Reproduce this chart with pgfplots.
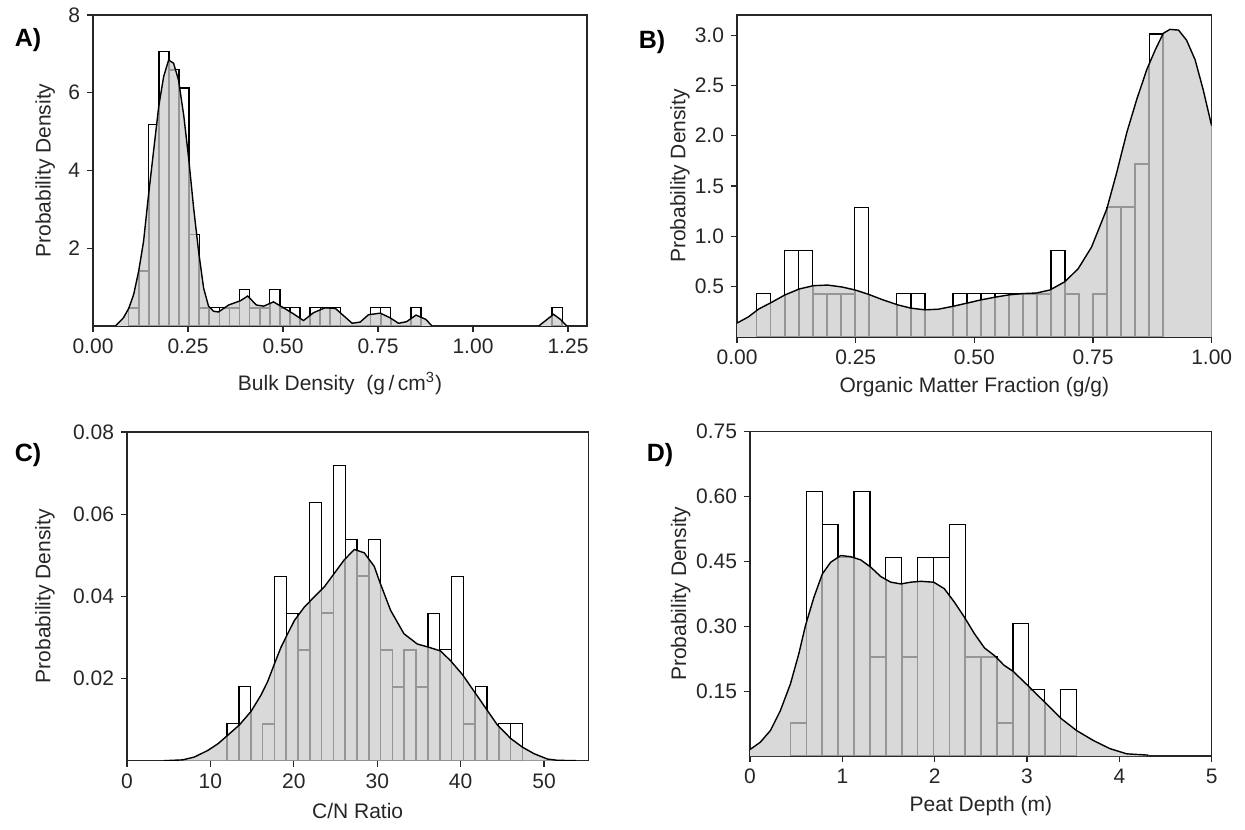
\documentclass[border=0pt]{standalone}
\usepackage{fontspec}
\setmainfont{Liberation Sans}
\usepackage{pgfplots}
\pgfplotsset{compat=1.18}
\definecolor{densfill}{RGB}{217,217,217}
\definecolor{histgrey}{RGB}{150,150,150}
\begin{document}
\begin{tikzpicture}[x=1pt,y=1pt]
\path[use as bounding box] (0,0) rectangle (622.5,414.5);
\pgfplotsset{
  panel/.style={
    scale only axis,
    axis line style={black!85, line width=0.6pt},
    tick style={black!85, line width=0.6pt},
    tick align=outside,
    major tick length=3pt,
    xtick pos=bottom, ytick pos=left,
    scaled ticks=false,
    ticklabel style={font=\fontsize{10.5}{12}\selectfont, text=black!85},
    label style={font=\fontsize{10.5}{12}\selectfont, text=black!85},
    xlabel style={at={(axis description cs:0.5,0)}, anchor=center, yshift=-25pt},
    clip=true,
  },
  hist/.style={ybar interval, fill=white, draw=black, line width=0.65pt},
  histin/.style={ybar interval, fill=none, draw=histgrey, line width=0.8pt},
  dens/.style={fill=densfill, draw=none},
  densline/.style={black, line width=0.7pt},
}
% ---------------- A ----------------
\begin{axis}[panel, at={(46.5pt,251.5pt)}, anchor=south west, width=247pt, height=155.5pt,
  xmin=0, xmax=1.30, ymin=0, ymax=8,
  xtick={0,0.25,0.5,0.75,1,1.25}, xticklabels={0.00,0.25,0.50,0.75,1.00,1.25},
  ytick={2,4,6,8}, yticklabels={2,4,6,8},
  xlabel={Bulk Density\ \ (g\,/\,cm\textsuperscript{3})},
  xlabel style={yshift=-4pt},
  ylabel={Probability Density},
  ylabel style={at={(axis description cs:-0.097,0.5)}, anchor=center}]
\addplot[hist] coordinates {
(0.0938,0.47)(0.1203,1.41)(0.1469,5.18)(0.1734,7.06)(0.1999,6.59)(0.2265,6.12)
(0.2530,2.35)(0.2795,0.47)(0.3060,0.47)(0.3326,0.47)(0.3591,0.47)(0.3856,0.94)
(0.4122,0.47)(0.4387,0.47)(0.4652,0.94)(0.4918,0.47)(0.5183,0.47)(0.5448,0)
(0.5713,0.47)(0.5979,0.47)(0.6244,0.47)(0.6509,0)(0.6775,0)(0.7040,0)
(0.7305,0.47)(0.7571,0.47)(0.7836,0)(0.8101,0)(0.8366,0.47)(0.8632,0)};
\addplot[hist] coordinates {(1.2081,0.47)(1.2346,0)};
\addplot[dens] coordinates {
(0.059,0)(0.080,0.21)(0.094,0.45)(0.107,0.81)(0.120,1.40)(0.133,2.17)(0.146,3.36)
(0.160,4.55)(0.173,5.65)(0.186,6.42)(0.199,6.84)(0.212,6.76)(0.225,6.33)(0.239,5.40)
(0.252,4.29)(0.265,3.02)(0.278,1.91)(0.291,0.98)(0.304,0.51)(0.317,0.38)(0.330,0.36)
(0.357,0.54)(0.388,0.65)(0.407,0.77)(0.430,0.54)(0.449,0.51)(0.475,0.62)(0.501,0.47)
(0.528,0.31)(0.554,0.14)(0.580,0.34)(0.611,0.47)(0.638,0.45)(0.660,0.26)(0.682,0.07)
(0.703,0.10)(0.725,0.29)(0.756,0.33)(0.782,0.21)(0.804,0.07)(0.825,0.11)(0.850,0.28)
(0.876,0.17)(0.892,0)} \closedcycle;
\addplot[dens] coordinates {(1.173,0)(1.195,0.17)(1.212,0.30)(1.230,0.17)(1.247,0)} \closedcycle;
\begin{scope}
\clip plot coordinates {
(0.059,0)(0.080,0.21)(0.094,0.45)(0.107,0.81)(0.120,1.40)(0.133,2.17)(0.146,3.36)
(0.160,4.55)(0.173,5.65)(0.186,6.42)(0.199,6.84)(0.212,6.76)(0.225,6.33)(0.239,5.40)
(0.252,4.29)(0.265,3.02)(0.278,1.91)(0.291,0.98)(0.304,0.51)(0.317,0.38)(0.330,0.36)
(0.357,0.54)(0.388,0.65)(0.407,0.77)(0.430,0.54)(0.449,0.51)(0.475,0.62)(0.501,0.47)
(0.528,0.31)(0.554,0.14)(0.580,0.34)(0.611,0.47)(0.638,0.45)(0.660,0.26)(0.682,0.07)
(0.703,0.10)(0.725,0.29)(0.756,0.33)(0.782,0.21)(0.804,0.07)(0.825,0.11)(0.850,0.28)
(0.876,0.17)(0.892,0)(1.173,0)(1.195,0.17)(1.212,0.30)(1.230,0.17)(1.247,0)} -- cycle;
\addplot[histin] coordinates {
(0.0938,0.47)(0.1203,1.41)(0.1469,5.18)(0.1734,7.06)(0.1999,6.59)(0.2265,6.12)
(0.2530,2.35)(0.2795,0.47)(0.3060,0.47)(0.3326,0.47)(0.3591,0.47)(0.3856,0.94)
(0.4122,0.47)(0.4387,0.47)(0.4652,0.94)(0.4918,0.47)(0.5183,0.47)(0.5448,0)
(0.5713,0.47)(0.5979,0.47)(0.6244,0.47)(0.6509,0)(0.6775,0)(0.7040,0)
(0.7305,0.47)(0.7571,0.47)(0.7836,0)(0.8101,0)(0.8366,0.47)(0.8632,0)};
\addplot[histin] coordinates {(1.2081,0.47)(1.2346,0)};
\end{scope}
\addplot[densline] coordinates {
(0.059,0)(0.080,0.21)(0.094,0.45)(0.107,0.81)(0.120,1.40)(0.133,2.17)(0.146,3.36)
(0.160,4.55)(0.173,5.65)(0.186,6.42)(0.199,6.84)(0.212,6.76)(0.225,6.33)(0.239,5.40)
(0.252,4.29)(0.265,3.02)(0.278,1.91)(0.291,0.98)(0.304,0.51)(0.317,0.38)(0.330,0.36)
(0.357,0.54)(0.388,0.65)(0.407,0.77)(0.430,0.54)(0.449,0.51)(0.475,0.62)(0.501,0.47)
(0.528,0.31)(0.554,0.14)(0.580,0.34)(0.611,0.47)(0.638,0.45)(0.660,0.26)(0.682,0.07)
(0.703,0.10)(0.725,0.29)(0.756,0.33)(0.782,0.21)(0.804,0.07)(0.825,0.11)(0.850,0.28)
(0.876,0.17)(0.892,0)};
\addplot[densline] coordinates {(1.173,0)(1.195,0.17)(1.212,0.30)(1.230,0.17)(1.247,0)};
\end{axis}
% ---------------- B ----------------
\begin{axis}[panel, at={(368.5pt,246pt)}, anchor=south west, width=237.35pt, height=161pt,
  xmin=0, xmax=1.0, ymin=0, ymax=3.2,
  xtick={0,0.25,0.5,0.75,1}, xticklabels={0.00,0.25,0.50,0.75,1.00},
  ytick={0.5,1,1.5,2,2.5,3}, yticklabels={0.5,1.0,1.5,2.0,2.5,3.0},
  xlabel={Organic Matter Fraction (g/g)},
  ylabel={Probability Density},
  ylabel style={at={(axis description cs:-0.12,0.5)}, anchor=center}]
\addplot[hist] coordinates {
(0.0414,0.43)(0.0709,0)(0.1005,0.86)(0.1300,0.86)(0.1595,0.43)(0.1891,0.43)
(0.2186,0.43)(0.2481,1.29)(0.2776,0)(0.3072,0)(0.3367,0.43)(0.3662,0.43)
(0.3958,0)(0.4253,0)(0.4548,0.43)(0.4844,0.43)(0.5139,0.43)(0.5434,0.43)
(0.5729,0.43)(0.6025,0.43)(0.6320,0.43)(0.6615,0.86)(0.6911,0.43)(0.7206,0)
(0.7501,0.43)(0.7797,1.29)(0.8092,1.29)(0.8387,1.72)(0.8682,3.01)(0.8978,0)};
\addplot[dens] coordinates {
(0.0,0.138)(0.024,0.20)(0.045,0.276)(0.073,0.345)(0.101,0.418)(0.131,0.477)(0.161,0.51)
(0.191,0.516)(0.221,0.497)(0.249,0.467)(0.277,0.424)(0.308,0.368)(0.339,0.319)(0.367,0.286)
(0.396,0.27)(0.424,0.276)(0.456,0.306)(0.484,0.336)(0.513,0.368)(0.543,0.395)(0.572,0.418)
(0.600,0.431)(0.631,0.437)(0.659,0.467)(0.691,0.55)(0.719,0.681)(0.747,0.895)(0.779,1.273)
(0.80,1.636)(0.821,2.03)(0.842,2.36)(0.863,2.655)(0.881,2.853)(0.898,3.018)(0.912,3.057)
(0.930,3.05)(0.947,2.95)(0.965,2.755)(0.982,2.458)(1.0,2.096)} \closedcycle;
\begin{scope}
\clip plot coordinates {
(0.0,0.138)(0.024,0.20)(0.045,0.276)(0.073,0.345)(0.101,0.418)(0.131,0.477)(0.161,0.51)
(0.191,0.516)(0.221,0.497)(0.249,0.467)(0.277,0.424)(0.308,0.368)(0.339,0.319)(0.367,0.286)
(0.396,0.27)(0.424,0.276)(0.456,0.306)(0.484,0.336)(0.513,0.368)(0.543,0.395)(0.572,0.418)
(0.600,0.431)(0.631,0.437)(0.659,0.467)(0.691,0.55)(0.719,0.681)(0.747,0.895)(0.779,1.273)
(0.80,1.636)(0.821,2.03)(0.842,2.36)(0.863,2.655)(0.881,2.853)(0.898,3.018)(0.912,3.057)
(0.930,3.05)(0.947,2.95)(0.965,2.755)(0.982,2.458)(1.0,2.096)} -- (1.0,0) -- (0,0) -- cycle;
\addplot[histin] coordinates {
(0.0414,0.43)(0.0709,0)(0.1005,0.86)(0.1300,0.86)(0.1595,0.43)(0.1891,0.43)
(0.2186,0.43)(0.2481,1.29)(0.2776,0)(0.3072,0)(0.3367,0.43)(0.3662,0.43)
(0.3958,0)(0.4253,0)(0.4548,0.43)(0.4844,0.43)(0.5139,0.43)(0.5434,0.43)
(0.5729,0.43)(0.6025,0.43)(0.6320,0.43)(0.6615,0.86)(0.6911,0.43)(0.7206,0)
(0.7501,0.43)(0.7797,1.29)(0.8092,1.29)(0.8387,1.72)(0.8682,3.01)(0.8978,0)};
\end{scope}
\addplot[densline] coordinates {
(0.0,0.138)(0.024,0.20)(0.045,0.276)(0.073,0.345)(0.101,0.418)(0.131,0.477)(0.161,0.51)
(0.191,0.516)(0.221,0.497)(0.249,0.467)(0.277,0.424)(0.308,0.368)(0.339,0.319)(0.367,0.286)
(0.396,0.27)(0.424,0.276)(0.456,0.306)(0.484,0.336)(0.513,0.368)(0.543,0.395)(0.572,0.418)
(0.600,0.431)(0.631,0.437)(0.659,0.467)(0.691,0.55)(0.719,0.681)(0.747,0.895)(0.779,1.273)
(0.80,1.636)(0.821,2.03)(0.842,2.36)(0.863,2.655)(0.881,2.853)(0.898,3.018)(0.912,3.057)
(0.930,3.05)(0.947,2.95)(0.965,2.755)(0.982,2.458)(1.0,2.096)};
\end{axis}
% ---------------- C ----------------
\begin{axis}[panel, at={(63.5pt,34.15pt)}, anchor=south west, width=230.65pt, height=164.35pt,
  xmin=0, xmax=55.3, ymin=0, ymax=0.08,
  xtick={0,10,20,30,40,50}, xticklabels={0,10,20,30,40,50},
  ytick={0.02,0.04,0.06,0.08}, yticklabels={0.02,0.04,0.06,0.08},
  xlabel={C/N Ratio},
  ylabel={Probability Density},
  ylabel style={at={(axis description cs:-0.178,0.5)}, anchor=center}]
\addplot[hist] coordinates {
(12.000,0.009)(13.416,0.018)(14.832,0)(16.248,0.009)(17.664,0.0449)(19.080,0.0359)
(20.496,0.027)(21.912,0.0629)(23.328,0.0359)(24.744,0.0718)(26.160,0.0539)(27.576,0.0449)
(28.992,0.0539)(30.408,0.027)(31.824,0.018)(33.240,0.027)(34.656,0.018)(36.072,0.0359)
(37.488,0.027)(38.904,0.0449)(40.320,0.009)(41.736,0.018)(43.152,0)(44.568,0.009)
(45.984,0.009)(47.400,0)};
\addplot[dens] coordinates {
(4.42,0)(6.69,0.0002)(8.08,0.0009)(9.69,0.0025)(10.89,0.0041)(12.08,0.0062)(13.47,0.0087)
(14.87,0.012)(16.07,0.016)(16.87,0.0193)(17.66,0.0235)(18.46,0.0276)(19.26,0.0309)
(20.06,0.0341)(21.26,0.0374)(22.46,0.0399)(23.65,0.0423)(24.85,0.0456)(26.05,0.0489)
(27.25,0.0514)(28.44,0.0506)(29.64,0.0473)(30.3,0.0435)(31.6,0.0366)(33.2,0.0309)
(34.8,0.0284)(36.2,0.0276)(37.6,0.0267)(38.8,0.0243)(40.2,0.021)(41.6,0.0169)(43.0,0.0128)
(44.4,0.0087)(46.0,0.0054)(47.4,0.0033)(48.8,0.0017)(50.4,0.0004)(51.6,0.0001)(53.8,0)} \closedcycle;
\begin{scope}
\clip plot coordinates {
(4.42,0)(6.69,0.0002)(8.08,0.0009)(9.69,0.0025)(10.89,0.0041)(12.08,0.0062)(13.47,0.0087)
(14.87,0.012)(16.07,0.016)(16.87,0.0193)(17.66,0.0235)(18.46,0.0276)(19.26,0.0309)
(20.06,0.0341)(21.26,0.0374)(22.46,0.0399)(23.65,0.0423)(24.85,0.0456)(26.05,0.0489)
(27.25,0.0514)(28.44,0.0506)(29.64,0.0473)(30.3,0.0435)(31.6,0.0366)(33.2,0.0309)
(34.8,0.0284)(36.2,0.0276)(37.6,0.0267)(38.8,0.0243)(40.2,0.021)(41.6,0.0169)(43.0,0.0128)
(44.4,0.0087)(46.0,0.0054)(47.4,0.0033)(48.8,0.0017)(50.4,0.0004)(51.6,0.0001)(53.8,0)} -- cycle;
\addplot[histin] coordinates {
(12.000,0.009)(13.416,0.018)(14.832,0)(16.248,0.009)(17.664,0.0449)(19.080,0.0359)
(20.496,0.027)(21.912,0.0629)(23.328,0.0359)(24.744,0.0718)(26.160,0.0539)(27.576,0.0449)
(28.992,0.0539)(30.408,0.027)(31.824,0.018)(33.240,0.027)(34.656,0.018)(36.072,0.0359)
(37.488,0.027)(38.904,0.0449)(40.320,0.009)(41.736,0.018)(43.152,0)(44.568,0.009)
(45.984,0.009)(47.400,0)};
\end{scope}
\addplot[densline] coordinates {
(4.42,0)(6.69,0.0002)(8.08,0.0009)(9.69,0.0025)(10.89,0.0041)(12.08,0.0062)(13.47,0.0087)
(14.87,0.012)(16.07,0.016)(16.87,0.0193)(17.66,0.0235)(18.46,0.0276)(19.26,0.0309)
(20.06,0.0341)(21.26,0.0374)(22.46,0.0399)(23.65,0.0423)(24.85,0.0456)(26.05,0.0489)
(27.25,0.0514)(28.44,0.0506)(29.64,0.0473)(30.3,0.0435)(31.6,0.0366)(33.2,0.0309)
(34.8,0.0284)(36.2,0.0276)(37.6,0.0267)(38.8,0.0243)(40.2,0.021)(41.6,0.0169)(43.0,0.0128)
(44.4,0.0087)(46.0,0.0054)(47.4,0.0033)(48.8,0.0017)(50.4,0.0004)(51.6,0.0001)(53.8,0)};
\end{axis}
% ---------------- D ----------------
\begin{axis}[panel, at={(375pt,36.5pt)}, anchor=south west, width=230.85pt, height=162.15pt,
  xmin=0, xmax=5, ymin=0, ymax=0.75,
  xtick={0,1,2,3,4,5}, xticklabels={0,1,2,3,4,5},
  ytick={0.15,0.30,0.45,0.60,0.75}, yticklabels={0.15,0.30,0.45,0.60,0.75},
  xlabel={Peat Depth (m)},
  ylabel={Probability Density},
  ylabel style={at={(axis description cs:-0.15,0.5)}, anchor=center}]
\addplot[hist] coordinates {
(0.438,0.0765)(0.6101,0.612)(0.7822,0.5355)(0.9543,0.459)(1.1264,0.612)(1.2985,0.2295)
(1.4706,0.459)(1.6427,0.2295)(1.8148,0.459)(1.9869,0.459)(2.159,0.5355)(2.3311,0.2295)
(2.5032,0.2295)(2.6753,0.0765)(2.8474,0.306)(3.0195,0.153)(3.1916,0)(3.3637,0.153)
(3.5358,0)};
\addplot[dens] coordinates {
(0,0.015)(0.112,0.032)(0.221,0.059)(0.329,0.105)(0.438,0.167)(0.528,0.236)(0.601,0.302)
(0.692,0.367)(0.783,0.421)(0.873,0.448)(0.982,0.4636)(1.09,0.461)(1.199,0.4536)(1.308,0.4366)
(1.416,0.415)(1.525,0.402)(1.634,0.398)(1.742,0.402)(1.851,0.404)(1.989,0.402)(2.104,0.387)
(2.213,0.356)(2.322,0.321)(2.43,0.283)(2.539,0.25)(2.648,0.232)(2.75,0.21)(2.848,0.196)
(3.028,0.159)(3.191,0.1246)(3.373,0.086)(3.536,0.059)(3.717,0.036)(3.898,0.017)(4.08,0.005)
(4.315,0.002)} \closedcycle;
\begin{scope}
\clip plot coordinates {
(0,0.015)(0.112,0.032)(0.221,0.059)(0.329,0.105)(0.438,0.167)(0.528,0.236)(0.601,0.302)
(0.692,0.367)(0.783,0.421)(0.873,0.448)(0.982,0.4636)(1.09,0.461)(1.199,0.4536)(1.308,0.4366)
(1.416,0.415)(1.525,0.402)(1.634,0.398)(1.742,0.402)(1.851,0.404)(1.989,0.402)(2.104,0.387)
(2.213,0.356)(2.322,0.321)(2.43,0.283)(2.539,0.25)(2.648,0.232)(2.75,0.21)(2.848,0.196)
(3.028,0.159)(3.191,0.1246)(3.373,0.086)(3.536,0.059)(3.717,0.036)(3.898,0.017)(4.08,0.005)
(4.315,0.002)} -- (4.315,0) -- (0,0) -- cycle;
\addplot[histin] coordinates {
(0.438,0.0765)(0.6101,0.612)(0.7822,0.5355)(0.9543,0.459)(1.1264,0.612)(1.2985,0.2295)
(1.4706,0.459)(1.6427,0.2295)(1.8148,0.459)(1.9869,0.459)(2.159,0.5355)(2.3311,0.2295)
(2.5032,0.2295)(2.6753,0.0765)(2.8474,0.306)(3.0195,0.153)(3.1916,0)(3.3637,0.153)
(3.5358,0)};
\end{scope}
\addplot[densline] coordinates {
(0,0.015)(0.112,0.032)(0.221,0.059)(0.329,0.105)(0.438,0.167)(0.528,0.236)(0.601,0.302)
(0.692,0.367)(0.783,0.421)(0.873,0.448)(0.982,0.4636)(1.09,0.461)(1.199,0.4536)(1.308,0.4366)
(1.416,0.415)(1.525,0.402)(1.634,0.398)(1.742,0.402)(1.851,0.404)(1.989,0.402)(2.104,0.387)
(2.213,0.356)(2.322,0.321)(2.43,0.283)(2.539,0.25)(2.648,0.232)(2.75,0.21)(2.848,0.196)
(3.028,0.159)(3.191,0.1246)(3.373,0.086)(3.536,0.059)(3.717,0.036)(3.898,0.017)(4.08,0.005)
(4.315,0.002)};
\end{axis}
% panel letters
\node[font=\bfseries\fontsize{12.5}{14}\selectfont] at (14,394.5) {A)};
\node[font=\bfseries\fontsize{12.5}{14}\selectfont] at (326,393.5) {B)};
\node[font=\bfseries\fontsize{12.5}{14}\selectfont] at (14,187) {C)};
\node[font=\bfseries\fontsize{12.5}{14}\selectfont] at (330,187) {D)};
\end{tikzpicture}
\end{document}
